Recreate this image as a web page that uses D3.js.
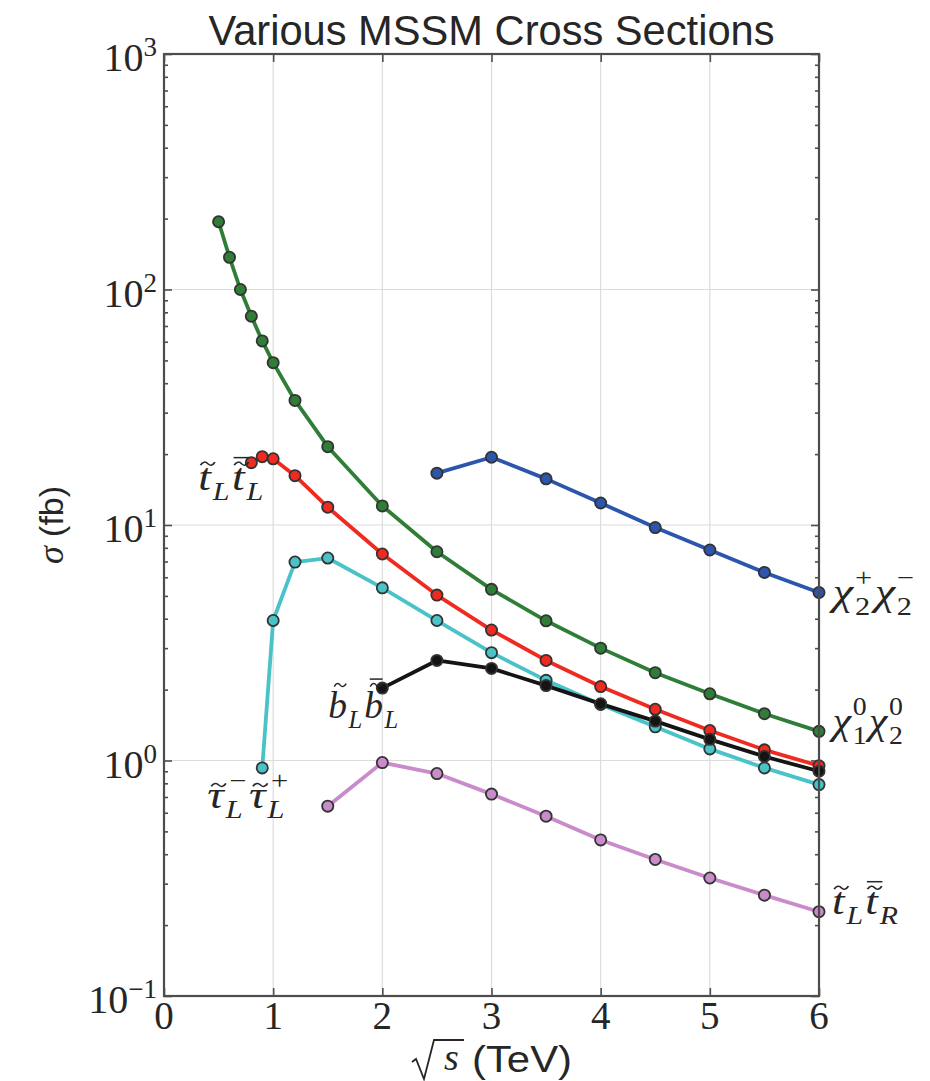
<!DOCTYPE html>
<html>
<head>
<meta charset="utf-8">
<script src="https://cdn.jsdelivr.net/npm/d3@7"></script>
<style>
  body { margin: 0; background: #fff; }
  svg { display: block; }
</style>
</head>
<body>
<svg id="chart" width="930" height="1081"></svg>
<script>
// ---- data: production cross sections (fb) vs collider energy sqrt(s) (TeV) ----
const xTickValues = [0, 1, 2, 3, 4, 5, 6];
const yDecadeExponents = [-1, 0, 1, 2, 3];

const chi1chi2Energy = [0.5, 0.6, 0.7, 0.8, 0.9, 1.0, 1.2, 1.5, 2, 2.5, 3, 3.5, 4, 4.5, 5, 5.5, 6];
const chi1chi2Sigma  = [194, 137, 100, 77, 60.5, 48.9, 33.8, 21.5, 12.05, 7.7, 5.33, 3.92, 3.0, 2.36, 1.92, 1.58, 1.33];

const chi2chi2Energy = [2.5, 3, 3.5, 4, 4.5, 5, 5.5, 6];
const chi2chi2Sigma  = [16.6, 19.4, 15.7, 12.4, 9.75, 7.83, 6.29, 5.17];

const stopLLEnergy = [0.8, 0.9, 1.0, 1.2, 1.5, 2, 2.5, 3, 3.5, 4, 4.5, 5, 5.5, 6];
const stopLLSigma  = [18.4, 19.5, 19.1, 16.2, 11.9, 7.53, 5.04, 3.58, 2.66, 2.06, 1.65, 1.34, 1.11, 0.95];

const stauEnergy = [0.9, 1.0, 1.2, 1.5, 2, 2.5, 3, 3.5, 4, 4.5, 5, 5.5, 6];
const stauSigma  = [0.93, 3.93, 6.96, 7.24, 5.41, 3.93, 2.87, 2.19, 1.73, 1.39, 1.12, 0.93, 0.79];

const sbottomEnergy = [2, 2.5, 3, 3.5, 4, 4.5, 5, 5.5, 6];
const sbottomSigma  = [2.03, 2.66, 2.46, 2.08, 1.74, 1.47, 1.23, 1.04, 0.90];

const stopLREnergy = [1.5, 2, 2.5, 3, 3.5, 4, 4.5, 5, 5.5, 6];
const stopLRSigma  = [0.64, 0.98, 0.88, 0.72, 0.58, 0.46, 0.38, 0.317, 0.268, 0.228];

// ---- layout ----
const svg = d3.select("#chart");
const plot = { left: 164, right: 819, top: 54, bottom: 996 };
const x = d3.scaleLinear().domain([0, 6]).range([plot.left, plot.right]);
const y = d3.scaleLog().domain([0.1, 1000]).range([plot.bottom, plot.top]);

const SERIF = "'Liberation Serif', 'DejaVu Serif', serif";
const SANS = "'Liberation Sans', Arial, sans-serif";
const FRAME = "#4d4d4d";
const INK = "#262626";

// grid
const grid = svg.append("g").attr("stroke", "#dcdcdc").attr("stroke-width", 1.2);
grid.selectAll("line.v").data(xTickValues.slice(1, -1)).join("line")
  .attr("x1", d => x(d)).attr("x2", d => x(d))
  .attr("y1", plot.top).attr("y2", plot.bottom);
grid.selectAll("line.h").data(yDecadeExponents.slice(1, -1)).join("line")
  .attr("x1", plot.left).attr("x2", plot.right)
  .attr("y1", d => y(Math.pow(10, d))).attr("y2", d => y(Math.pow(10, d)));

// ticks (all pointing inward)
const minorValues = [];
yDecadeExponents.slice(0, -1).forEach(e => {
  for (let m = 2; m <= 9; m++) minorValues.push(m * Math.pow(10, e));
});
const majorValues = yDecadeExponents.map(e => Math.pow(10, e));

function styleAxis(g) {
  g.select(".domain").remove();
  g.selectAll(".tick line").attr("stroke", FRAME).attr("stroke-width", 1.6);
  g.selectAll(".tick text").remove();
}
svg.append("g").attr("transform", `translate(0,${plot.bottom})`)
  .call(d3.axisBottom(x).tickValues(xTickValues).tickSize(-8)).call(styleAxis);
svg.append("g").attr("transform", `translate(0,${plot.top})`)
  .call(d3.axisTop(x).tickValues(xTickValues).tickSize(-8)).call(styleAxis);
svg.append("g").attr("transform", `translate(${plot.left},0)`)
  .call(d3.axisLeft(y).tickValues(minorValues).tickSize(-4)).call(styleAxis);
svg.append("g").attr("transform", `translate(${plot.left},0)`)
  .call(d3.axisLeft(y).tickValues(majorValues).tickSize(-8)).call(styleAxis);
svg.append("g").attr("transform", `translate(${plot.right},0)`)
  .call(d3.axisRight(y).tickValues(minorValues).tickSize(-4)).call(styleAxis);
svg.append("g").attr("transform", `translate(${plot.right},0)`)
  .call(d3.axisRight(y).tickValues(majorValues).tickSize(-8)).call(styleAxis);

// tick labels
svg.append("g").selectAll("text").data(xTickValues).join("text")
  .attr("x", d => x(d)).attr("y", plot.bottom + 33)
  .attr("text-anchor", "middle")
  .attr("font-family", SERIF).attr("font-size", 39).attr("fill", INK)
  .text(d => d);

const yLab = svg.append("g").selectAll("text").data(yDecadeExponents).join("text")
  .attr("x", plot.left - 7).attr("y", d => y(Math.pow(10, d)) + 17)
  .attr("text-anchor", "end")
  .attr("font-family", SERIF).attr("font-size", 40).attr("fill", INK);
yLab.append("tspan").text("10");
yLab.append("tspan").attr("font-size", 27).attr("dy", -15)
  .text(d => d < 0 ? "\u2212" + Math.abs(d) : String(d));

// ---- series ----
const series = [
  { key: "chi1chi2", xs: chi1chi2Energy, ys: chi1chi2Sigma, color: "#2e7e37" },
  { key: "chi2chi2", xs: chi2chi2Energy, ys: chi2chi2Sigma, color: "#2c55ad" },
  { key: "stopLL",   xs: stopLLEnergy,   ys: stopLLSigma,   color: "#ef2a20" },
  { key: "stau",     xs: stauEnergy,     ys: stauSigma,     color: "#49c3c8" },
  { key: "sbottom",  xs: sbottomEnergy,  ys: sbottomSigma,  color: "#141414" },
  { key: "stopLR",   xs: stopLREnergy,   ys: stopLRSigma,   color: "#c98bc9" }
];

const line = d3.line().x(d => x(d[0])).y(d => y(d[1]));
const marks = svg.append("g");
series.forEach(s => {
  const pts = s.xs.map((v, i) => [v, s.ys[i]]);
  const g = marks.append("g");
  g.append("path").datum(pts).attr("d", line)
    .attr("fill", "none").attr("stroke", s.color).attr("stroke-width", 3.8)
    .attr("stroke-linejoin", "round");
  g.selectAll("circle").data(pts).join("circle")
    .attr("cx", d => x(d[0])).attr("cy", d => y(d[1])).attr("r", 5.6)
    .attr("fill", s.color).attr("stroke", "#333").attr("stroke-width", 1.8);
});

// frame
svg.append("rect")
  .attr("x", plot.left).attr("y", plot.top)
  .attr("width", plot.right - plot.left).attr("height", plot.bottom - plot.top)
  .attr("fill", "none").attr("stroke", FRAME).attr("stroke-width", 2.2);

// ---- math-style labels ----
// Each part: base glyph, optional accent ("tilde" | "tildebar"), subscript, superscript.
// The whole label is one <text> (tspans at absolute positions) plus accent paths,
// stretched horizontally to the requested width.
const BASE = 38, SCRIPT = 25;
const accentRise = { t: 26, b: 33, "\u03C4": 23 };
function mathLabel(x0, y0, parts, width) {
  const g = svg.append("g");
  const txt = g.append("text").attr("fill", INK).attr("font-family", SERIF);
  let cx = x0;
  parts.forEach(p => {
    const base = txt.append("tspan").attr("x", cx).attr("y", y0)
      .attr("font-size", BASE).attr("font-style", "italic").text(p.b);
    const w = base.node().getComputedTextLength();
    if (p.acc) {
      const ax = cx + w / 2 + 2.5;
      const ay = y0 - (accentRise[p.b] || 26);
      g.append("path")
        .attr("d", `M${ax - 6},${ay + 1.5} C${ax - 4},${ay - 2.5} ${ax - 1.5},${ay - 2} ${ax},${ay} C${ax + 1.5},${ay + 2} ${ax + 4},${ay + 2.5} ${ax + 6},${ay - 1.5}`)
        .attr("fill", "none").attr("stroke", INK).attr("stroke-width", 1.5);
      if (p.acc === "tildebar") {
        g.append("line").attr("x1", ax - 6.5).attr("x2", ax + 6.5)
          .attr("y1", ay - 6).attr("y2", ay - 6)
          .attr("stroke", INK).attr("stroke-width", 1.5);
      }
    }
    cx += w + 1.5;
    let adv = 0;
    if (p.sub) {
      const t = txt.append("tspan").attr("x", cx).attr("y", y0 + 10).attr("font-size", SCRIPT)
        .attr("font-style", /[A-Z]/.test(p.sub) ? "italic" : "normal").text(p.sub);
      adv = Math.max(adv, t.node().getComputedTextLength());
    }
    if (p.sup) {
      const sx = cx + (p.supShift || 0);
      const t = txt.append("tspan").attr("x", sx).attr("y", y0 - 19).attr("font-size", SCRIPT)
        .attr("font-style", "normal").text(p.sup);
      adv = Math.max(adv, t.node().getComputedTextLength() + (p.supShift || 0));
    }
    cx += adv + 2;
  });
  const bb = g.node().getBBox();
  const k = width / bb.width;
  g.attr("transform", `translate(${bb.x},0) scale(${k},1) translate(${-bb.x},0)`);
}

function pointAt(xs, ys, i) { return [x(xs[i]), y(ys[i])]; }

let p;
p = pointAt(chi2chi2Energy, chi2chi2Sigma, chi2chi2Energy.length - 1);
mathLabel(p[0] + 13, p[1] + 13, [
  { b: "\u03C7", sub: "2", sup: "+" }, { b: "\u03C7", sub: "2", sup: "\u2212" }
], 86);
p = pointAt(chi1chi2Energy, chi1chi2Sigma, chi1chi2Energy.length - 1);
mathLabel(p[0] + 13, p[1] + 3, [
  { b: "\u03C7", sub: "1", sup: "0" }, { b: "\u03C7", sub: "2", sup: "0" }
], 75);
p = pointAt(stopLREnergy, stopLRSigma, stopLREnergy.length - 1);
mathLabel(p[0] + 13, p[1] + 2, [
  { b: "t", acc: "tilde", sub: "L" }, { b: "t", acc: "tildebar", sub: "R" }
], 66);
p = pointAt(sbottomEnergy, sbottomSigma, 0);
mathLabel(p[0] - 54, p[1] + 30, [
  { b: "b", acc: "tilde", sub: "L" }, { b: "b", acc: "tildebar", sub: "L" }
], 70);
p = pointAt(stauEnergy, stauSigma, 0);
mathLabel(p[0] - 55, p[1] + 40, [
  { b: "\u03C4", acc: "tilde", sub: "L", sup: "\u2212", supShift: 3 },
  { b: "\u03C4", acc: "tilde", sub: "L", sup: "+", supShift: 3 }
], 81);
p = pointAt(stopLLEnergy, stopLLSigma, 0);
mathLabel(p[0] - 53, p[1] + 27, [
  { b: "t", acc: "tilde", sub: "L" }, { b: "t", acc: "tildebar", sub: "L" }
], 65);

// ---- title and axis titles ----
svg.append("text").attr("x", (plot.left + plot.right) / 2).attr("y", 45)
  .attr("text-anchor", "middle").attr("font-family", SANS).attr("font-size", 42)
  .attr("fill", INK).attr("textLength", 566).attr("lengthAdjust", "spacingAndGlyphs")
  .text("Various MSSM Cross Sections");

// x-axis title: radical drawn as a path, then italic s and (TeV)
const xt = svg.append("g");
xt.append("path")
  .attr("d", "M412,1062 L416,1059 L424,1079 L434,1040 L464,1040")
  .attr("fill", "none").attr("stroke", INK).attr("stroke-width", 1.8)
  .attr("stroke-linejoin", "miter");
xt.append("text").attr("x", 444).attr("y", 1070)
  .attr("font-family", SERIF).attr("font-size", 38).attr("font-style", "italic")
  .attr("fill", INK).text("s");
xt.append("text").attr("x", 472).attr("y", 1072)
  .attr("font-family", SANS).attr("font-size", 37).attr("fill", INK)
  .attr("textLength", 100).attr("lengthAdjust", "spacingAndGlyphs").text("(TeV)");

// y-axis title: sigma (fb)
const yt = svg.append("text").attr("transform", "translate(63,525) rotate(-90)")
  .attr("text-anchor", "middle").attr("fill", INK);
yt.append("tspan").attr("font-family", SERIF).attr("font-style", "italic").attr("font-size", 36).text("\u03C3");
yt.append("tspan").attr("font-family", SANS).attr("font-size", 34).text(" (fb)");
</script>
</body>
</html>
